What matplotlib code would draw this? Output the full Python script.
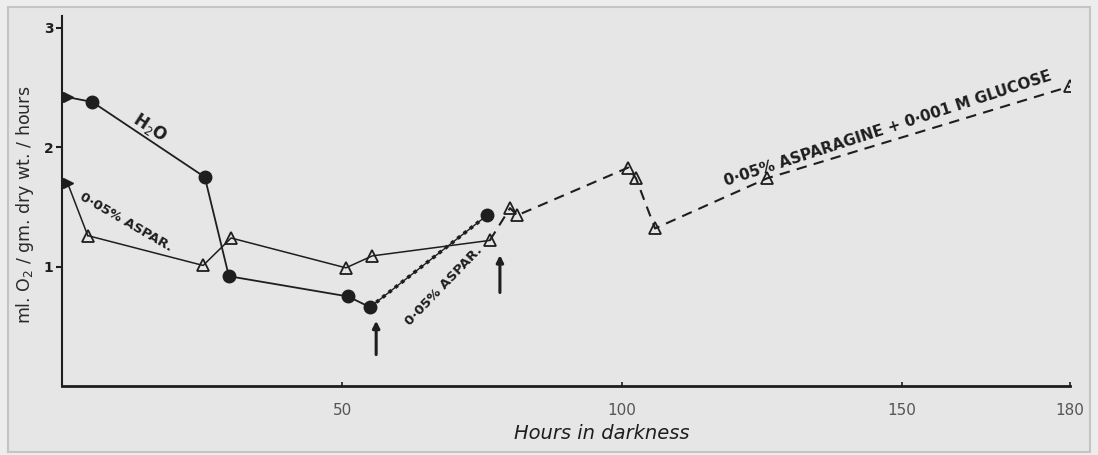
import matplotlib.pyplot as plt
from matplotlib.patches import Rectangle

# Oxygen uptake of leaf discs kept in darkness
# water series (filled circles)
h2o_hours = [1.0, 5.4, 25.5, 29.8, 51.1, 55.0]
h2o_rate = [2.42, 2.38, 1.75, 0.92, 0.75, 0.66]
# after asparagine added to the water series (dotted)
h2o_asp_hours = [55.0, 75.9]
h2o_asp_rate = [0.66, 1.43]

# 0.05% asparagine series (open triangles)
asp_hours = [1.0, 4.6, 25.2, 30.2, 50.7, 55.4, 76.4]
asp_rate = [1.70, 1.26, 1.01, 1.24, 0.99, 1.09, 1.22]

# asparagine + glucose series (dashed)
glc_hours = [76.4, 80.0, 81.3, 101.1, 102.5, 105.9, 125.9, 180.0]
glc_rate = [1.22, 1.49, 1.43, 1.83, 1.74, 1.32, 1.74, 2.51]

# times at which the solutions were changed
arrow_hours = [56.1, 78.2]
arrow_base = [0.24, 0.76]
arrow_tip = [0.57, 1.12]

x_ticks = [50, 100, 150, 180]
y_ticks = [1, 2, 3]

ink = '#1e1e1e'

fig = plt.figure(figsize=(10.98, 4.55), dpi=100, facecolor='#ededed')
fig.patches.append(Rectangle((8 / 1098, 3 / 455), 1082 / 1098, 445 / 455,
                             transform=fig.transFigure, facecolor='#e6e6e6',
                             edgecolor='#c4c4c4', lw=1.5, zorder=-10))

ax = fig.add_axes([62 / 1098, 69 / 455, 1008 / 1098, 370 / 455])
ax.set_facecolor('none')

ax.plot(h2o_hours[1:], h2o_rate[1:], color=ink, lw=1.3, marker='o', ms=9,
        mfc=ink, mec=ink, zorder=3)
ax.plot(h2o_hours[:2], h2o_rate[:2], color=ink, lw=1.3, zorder=3)
ax.plot(h2o_hours[:1], h2o_rate[:1], color=ink, marker='>', ms=7, ls='none')
ax.plot(h2o_asp_hours, h2o_asp_rate, color=ink, lw=1.0, zorder=3)
ax.plot(h2o_asp_hours, h2o_asp_rate, color=ink, lw=2.6, ls=(0, (1, 1.2)),
        zorder=3)
ax.plot(h2o_asp_hours[1:], h2o_asp_rate[1:], color=ink, marker='o', ms=9,
        ls='none', zorder=4)

ax.plot(asp_hours[1:], asp_rate[1:], color=ink, lw=1.1, marker='^', ms=9,
        mfc='none', mec=ink, mew=1.3, zorder=3)
ax.plot(asp_hours[:2], asp_rate[:2], color=ink, lw=1.1, zorder=3)
ax.plot(asp_hours[:1], asp_rate[:1], color=ink, marker='>', ms=7, ls='none')

ax.plot(glc_hours, glc_rate, color=ink, lw=1.5, ls=(0, (5, 3.5)), zorder=3)
ax.plot(glc_hours[1:], glc_rate[1:], color=ink, marker='^', ms=9, ls='none',
        mfc='none', mec=ink, mew=1.3, zorder=4)

for h, y0, y1 in zip(arrow_hours, arrow_base, arrow_tip):
    ax.annotate('', xy=(h, y1), xytext=(h, y0),
                arrowprops=dict(arrowstyle='-|>', color=ink, lw=2.2,
                                mutation_scale=10))

ax.text(15.7, 2.16, 'H$_2$O', rotation=-33, fontsize=12, fontweight='bold',
        color=ink, ha='center', va='center')
ax.text(11.4, 1.37, '0·05% ASPAR.', rotation=-30, fontsize=9.5,
        fontweight='bold', color=ink, ha='center', va='center')
ax.text(68.2, 0.84, '0·05% ASPAR.', rotation=46, fontsize=9.5,
        fontweight='bold', color=ink, ha='center', va='center')
ax.text(147.5, 2.16, '0·05% ASPARAGINE + 0·001 M GLUCOSE', rotation=18,
        fontsize=11, fontweight='bold', color=ink, ha='center', va='center')

ax.set_xlim(0, 180)
ax.set_ylim(0, 3.1)
ax.set_xticks(x_ticks)
ax.set_yticks(y_ticks)
ax.tick_params(axis='x', direction='in', length=3, width=1.2, pad=12,
               labelsize=11, labelcolor='#555555', color=ink)
ax.tick_params(axis='y', direction='out', length=4, width=1.5, pad=2,
               labelsize=10, labelcolor=ink, color=ink)
for lbl in ax.get_yticklabels():
    lbl.set_fontweight('bold')

for side in ['top', 'right']:
    ax.spines[side].set_visible(False)
ax.spines['left'].set_linewidth(1.5)
ax.spines['bottom'].set_linewidth(2)
ax.spines['left'].set_color(ink)
ax.spines['bottom'].set_color(ink)

ax.set_xlabel('Hours in darkness', fontsize=14, style='italic', color=ink)
ax.xaxis.set_label_coords(0.535, -0.103)
ax.set_ylabel('ml. O$_2$ / gm. dry wt. / hours', fontsize=12.5, color='#2a2a2a')
ax.yaxis.set_label_coords(-0.026, 0.49)

fig.savefig('out.png', dpi=100, facecolor=fig.get_facecolor())
